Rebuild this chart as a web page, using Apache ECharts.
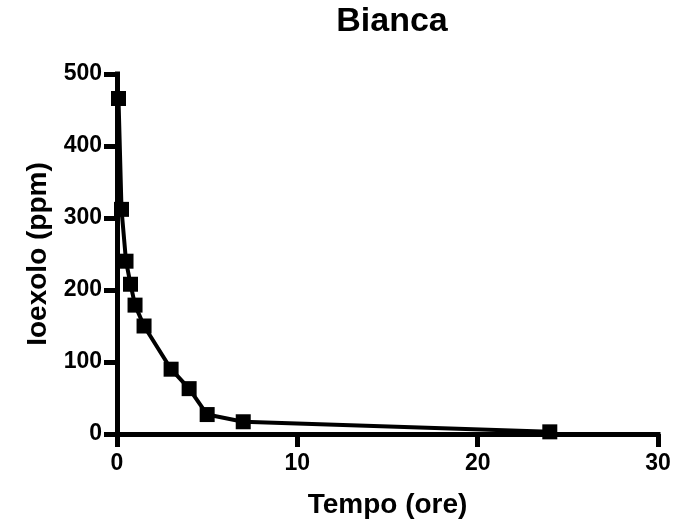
<!DOCTYPE html>
<html><head><meta charset="utf-8">
<script src="https://cdn.jsdelivr.net/npm/echarts@6/dist/echarts.min.js"></script>
<style>html,body{margin:0;padding:0;background:#fff}#c{width:676px;height:525px}</style>
</head><body><div id="c"></div>
<script>
const times = [0.083, 0.25, 0.5, 0.75, 1, 1.5, 3, 4, 5, 7, 24];
const values = [466, 312, 240, 208, 179, 150, 90, 63, 27, 17, 3];
const xTicks = [0, 10, 20, 30];
const yTicks = [0, 100, 200, 300, 400, 500];
const FONT = '"Liberation Sans", Arial, sans-serif';
const chart = echarts.init(document.getElementById('c'));
const axisCommon = {
  axisLine: {show: true, lineStyle: {color: '#000', width: 5, cap: 'square'}},
  axisTick: {show: true, inside: false, length: 13, lineStyle: {color: '#000', width: 5}},
  axisLabel: {color: '#000', fontFamily: FONT, fontWeight: 'bold', fontSize: 23},
  splitLine: {show: false},
  nameTextStyle: {color: '#000', fontFamily: FONT, fontWeight: 'bold', fontSize: 28},
  nameLocation: 'middle'
};
chart.setOption({
  animation: false,
  backgroundColor: '#fff',
  title: {text: 'Bianca', left: 387, top: 0, textAlign: 'center',
    textStyle: {color: '#000', fontFamily: FONT, fontWeight: 'bold', fontSize: 34}},
  grid: {left: 117, right: 18, top: 74, bottom: 91, containLabel: false},
  xAxis: Object.assign({}, axisCommon, {type: 'value', min: xTicks[0], max: xTicks[xTicks.length-1], interval: 10,
    name: 'Tempo (ore)', nameGap: 57,
    axisLabel: Object.assign({}, axisCommon.axisLabel, {margin: 18})}),
  yAxis: Object.assign({}, axisCommon, {type: 'value', min: yTicks[0], max: yTicks[yTicks.length-1], interval: 100,
    name: 'Ioexolo (ppm)', nameGap: 65,
    axisLabel: Object.assign({}, axisCommon.axisLabel, {margin: 15})}),
  series: [{
    type: 'line',
    data: times.map((t, i) => [t, values[i]]),
    symbol: 'rect', symbolSize: 15,
    lineStyle: {color: '#000', width: 4},
    itemStyle: {color: '#000'},
    clip: false
  }]
});
</script></body></html>
